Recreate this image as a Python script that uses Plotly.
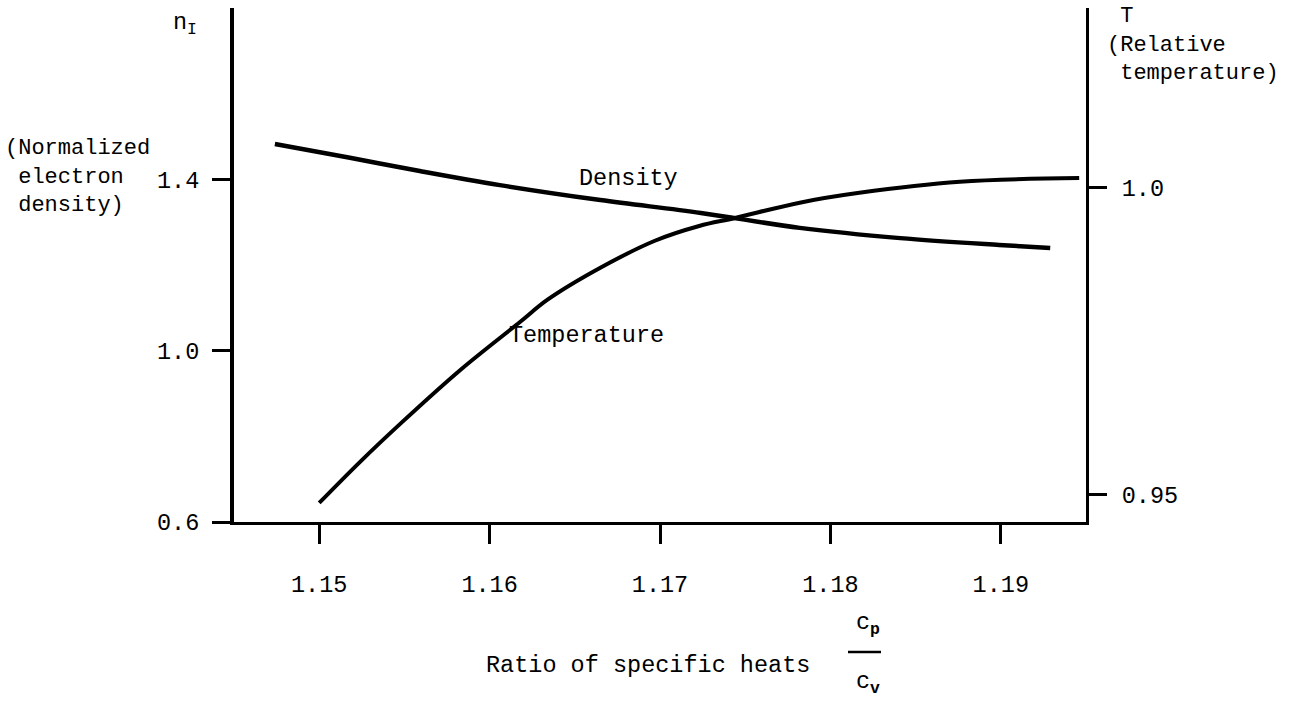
import plotly.graph_objects as go

# Ratio of specific heats (cp/cv) and the two response curves
density_x = [1.1474, 1.1518, 1.1559, 1.1606, 1.1665, 1.1724, 1.1782, 1.1841, 1.1899, 1.1929]
density_n = [1.484, 1.452, 1.421, 1.388, 1.353, 1.323, 1.288, 1.264, 1.248, 1.241]

temp_x = [1.1500, 1.1524, 1.1548, 1.1583, 1.1618, 1.1634, 1.1665, 1.1697, 1.1723,
          1.1744, 1.1782, 1.1817, 1.1876, 1.1946]
temp_T = [0.9487, 0.9554, 0.9617, 0.9704, 0.9782, 0.9818, 0.9870, 0.9914, 0.9938,
          0.9951, 0.9976, 0.9992, 1.0010, 1.0016]

x_ticks = [1.15, 1.16, 1.17, 1.18, 1.19]
x_ticktext = ["1.15", "1.16", "1.17", "1.18", "1.19"]
n_ticks = [0.6, 1.0, 1.4]
n_ticktext = ["0.6", "1.0", "1.4"]
t_ticks = [0.95, 1.0]
t_ticktext = ["0.95", "1.0"]

W, H = 1294, 703
L, R, T, B = 234, 1086, 8, 522
FONT = "Liberation Mono"
FS = 23.5
TITLE_FS = 22


def px(xp):
    return (xp - L) / (R - L)


def py(yp):
    return (B - yp) / (B - T)


fig = go.Figure()
fig.add_trace(go.Scatter(x=density_x, y=density_n, mode="lines",
                         line=dict(color="black", width=4.5, shape="spline"),
                         yaxis="y", hoverinfo="skip"))
fig.add_trace(go.Scatter(x=temp_x, y=temp_T, mode="lines",
                         line=dict(color="black", width=4, shape="spline"),
                         yaxis="y2", hoverinfo="skip"))

axis_font = dict(family=FONT, size=FS, color="black")

fig.update_layout(
    width=W, height=H,
    margin=dict(l=L, r=W - R, t=T, b=H - B, pad=0),
    paper_bgcolor="white", plot_bgcolor="white",
    showlegend=False, hovermode=False,
    font=axis_font,
    xaxis=dict(range=[1.145, 1.195], showgrid=False, zeroline=False,
               showline=True, linecolor="black", linewidth=3,
               ticks="outside", ticklen=19, tickwidth=2.5, tickcolor="black",
               tickvals=x_ticks, ticktext=x_ticktext, tickfont=axis_font,
               ticklabelstandoff=20),
    yaxis=dict(range=[0.6, 1.8023], showgrid=False, zeroline=False,
               showline=True, linecolor="black", linewidth=4,
               ticks="outside", ticklen=18, tickwidth=2.5, tickcolor="black",
               tickvals=n_ticks, ticktext=n_ticktext, tickfont=axis_font,
               ticklabelstandoff=8),
    yaxis2=dict(range=[0.9456, 1.0293], overlaying="y", side="right",
                showgrid=False, zeroline=False,
                showline=True, linecolor="black", linewidth=3,
                ticks="outside", ticklen=18, tickwidth=2.5, tickcolor="black",
                tickvals=t_ticks, ticktext=t_ticktext, tickfont=axis_font,
                ticklabelstandoff=10),
)

ann = []


def text(x, y, s, xanchor="left", yanchor="middle", size=FS):
    ann.append(dict(xref="paper", yref="paper", x=px(x), y=py(y), text=s,
                    showarrow=False, xanchor=xanchor, yanchor=yanchor,
                    align="left", valign="middle",
                    font=dict(family=FONT, size=size, color="black")))


# left axis title
text(171, 24, "n<sub>I</sub>")
text(3, 177, "(Normalized<br>\u00a0electron<br>\u00a0density)", size=TITLE_FS)
# right axis title
text(1105, 45, "\u00a0T<br>(Relative<br>\u00a0temperature)", size=TITLE_FS)
# curve labels
text(577, 178, "Density")
text(507, 335, "Temperature")
# x-axis title with cp/cv fraction
text(484, 665, "Ratio of specific heats")
text(868, 624, "c<sub><b>p</b></sub>", xanchor="center")
text(868, 683, "c<sub><b>v</b></sub>", xanchor="center")

fig.update_layout(annotations=ann)
fig.add_shape(type="line", xref="paper", yref="paper",
              x0=px(848), x1=px(881), y0=py(652), y1=py(652),
              line=dict(color="black", width=2.5))

fig.write_html("out.html")
